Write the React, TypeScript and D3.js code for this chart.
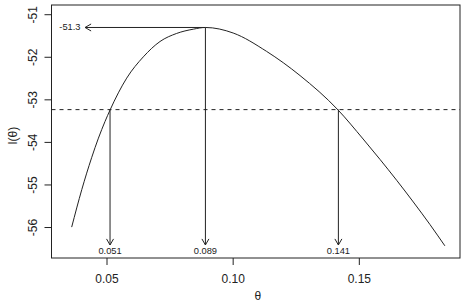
import React from "react";
import * as d3 from "d3";

// Curve samples
const thetaVals = [0.036, 0.04, 0.0439, 0.0466, 0.0492, 0.0512, 0.0578, 0.0644, 0.071, 0.0776, 0.0842, 0.089, 0.1, 0.1132, 0.1265, 0.1416, 0.1515, 0.1582, 0.1648, 0.1714, 0.178, 0.1839];
const llVals = [-55.99, -55.11, -54.36, -53.9, -53.51, -53.24, -52.49, -51.99, -51.63, -51.44, -51.34, -51.3, -51.43, -51.86, -52.43, -53.24, -53.92, -54.4, -54.89, -55.4, -55.93, -56.43];

const xTicks = [0.05, 0.1, 0.15];
const xTickLabels = ["0.05", "0.10", "0.15"];
const yTicks = [-56, -55, -54, -53, -52, -51];
const yTickLabels = ["-56", "-55", "-54", "-53", "-52", "-51"];

const maxValue = -51.3;
const maxLabel = "-51.3";
const maxArrowTip = 0.0413;
const cutoff = -53.23;
const arrowThetas = [0.0512, 0.089, 0.1417];
const arrowLabels = ["0.051", "0.089", "0.141"];
const arrowBottom = -56.41;
const arrowLabelY = -56.56;

const W = 469;
const H = 307;
const left = 51.5, right = 460, top = 5, bottom = 258;

const ink = "#222";
const font = "'Liberation Sans', Arial, Helvetica, sans-serif";

export default function App() {
  const x = d3.scaleLinear().domain([0.028, 0.1899]).range([left, right]);
  const y = d3.scaleLinear().domain([-50.772, -56.716]).range([top, bottom]);

  const pts = thetaVals.map((t, i) => [t, llVals[i]] as [number, number]);
  const line = d3.line<[number, number]>()
    .x(d => x(d[0]))
    .y(d => y(d[1]))
    .curve(d3.curveMonotoneX);

  const ah = 7;
  const hw = ah * Math.sin(Math.PI / 6);
  const hh = ah * Math.cos(Math.PI / 6);

  return (
    <svg width={W} height={H} style={{ position: "absolute", left: 0, top: 0, background: "#fff" }} fontFamily={font}>
      <rect x={0} y={0} width={W} height={H} fill="#fff" />
      {/* box */}
      <rect x={left} y={top} width={right - left} height={bottom - top} fill="none" stroke={ink} strokeWidth={1} />
      {/* y axis */}
      {yTicks.map((v, i) => (
        <g key={"y" + i}>
          <line x1={left - 7} x2={left} y1={y(v)} y2={y(v)} stroke={ink} />
          <text transform={`translate(${33},${y(v)}) rotate(-90)`} textAnchor="middle" dominantBaseline="central" fontSize={12} fill={ink}>{yTickLabels[i]}</text>
        </g>
      ))}
      {/* x axis */}
      {xTicks.map((v, i) => (
        <g key={"x" + i}>
          <line x1={x(v)} x2={x(v)} y1={bottom} y2={bottom + 7} stroke={ink} />
          <text x={x(v)} y={278.5} textAnchor="middle" dominantBaseline="central" fontSize={12} fill={ink}>{xTickLabels[i]}</text>
        </g>
      ))}
      <text x={(left + right) / 2 + 2} y={296} textAnchor="middle" dominantBaseline="central" fontSize={12} fill={ink}>θ</text>
      <text transform={`translate(${13},${(top + bottom) / 2 + 4}) rotate(-90)`} textAnchor="middle" dominantBaseline="central" fontSize={12} fill={ink}>l(θ)</text>

      {/* curve */}
      <path d={line(pts) ?? ""} fill="none" stroke={ink} strokeWidth={1} />

      {/* dashed cutoff */}
      <line x1={left} x2={right} y1={y(cutoff)} y2={y(cutoff)} stroke={ink} strokeDasharray="4,4" />

      {/* horizontal arrow to max */}
      <line x1={x(arrowThetas[1])} x2={x(maxArrowTip)} y1={y(maxValue)} y2={y(maxValue)} stroke={ink} />
      <path d={`M${x(maxArrowTip) + hh},${y(maxValue) - hw} L${x(maxArrowTip)},${y(maxValue)} L${x(maxArrowTip) + hh},${y(maxValue) + hw}`} fill="none" stroke={ink} />
      <text x={x(maxArrowTip) - 4.5} y={y(maxValue)} textAnchor="end" dominantBaseline="central" fontSize={9.3} fill={ink}>{maxLabel}</text>

      {/* vertical arrows */}
      {arrowThetas.map((t, i) => {
        const yStart = i === 1 ? y(maxValue) : y(cutoff);
        const xt = x(t);
        const yt = y(arrowBottom);
        return (
          <g key={"a" + i}>
            <line x1={xt} x2={xt} y1={yStart} y2={yt} stroke={ink} />
            <path d={`M${xt - hw},${yt - hh} L${xt},${yt} L${xt + hw},${yt - hh}`} fill="none" stroke={ink} />
            <text x={xt} y={y(arrowLabelY)} textAnchor="middle" dominantBaseline="central" fontSize={9.3} fill={ink}>{arrowLabels[i]}</text>
          </g>
        );
      })}
    </svg>
  );
}
